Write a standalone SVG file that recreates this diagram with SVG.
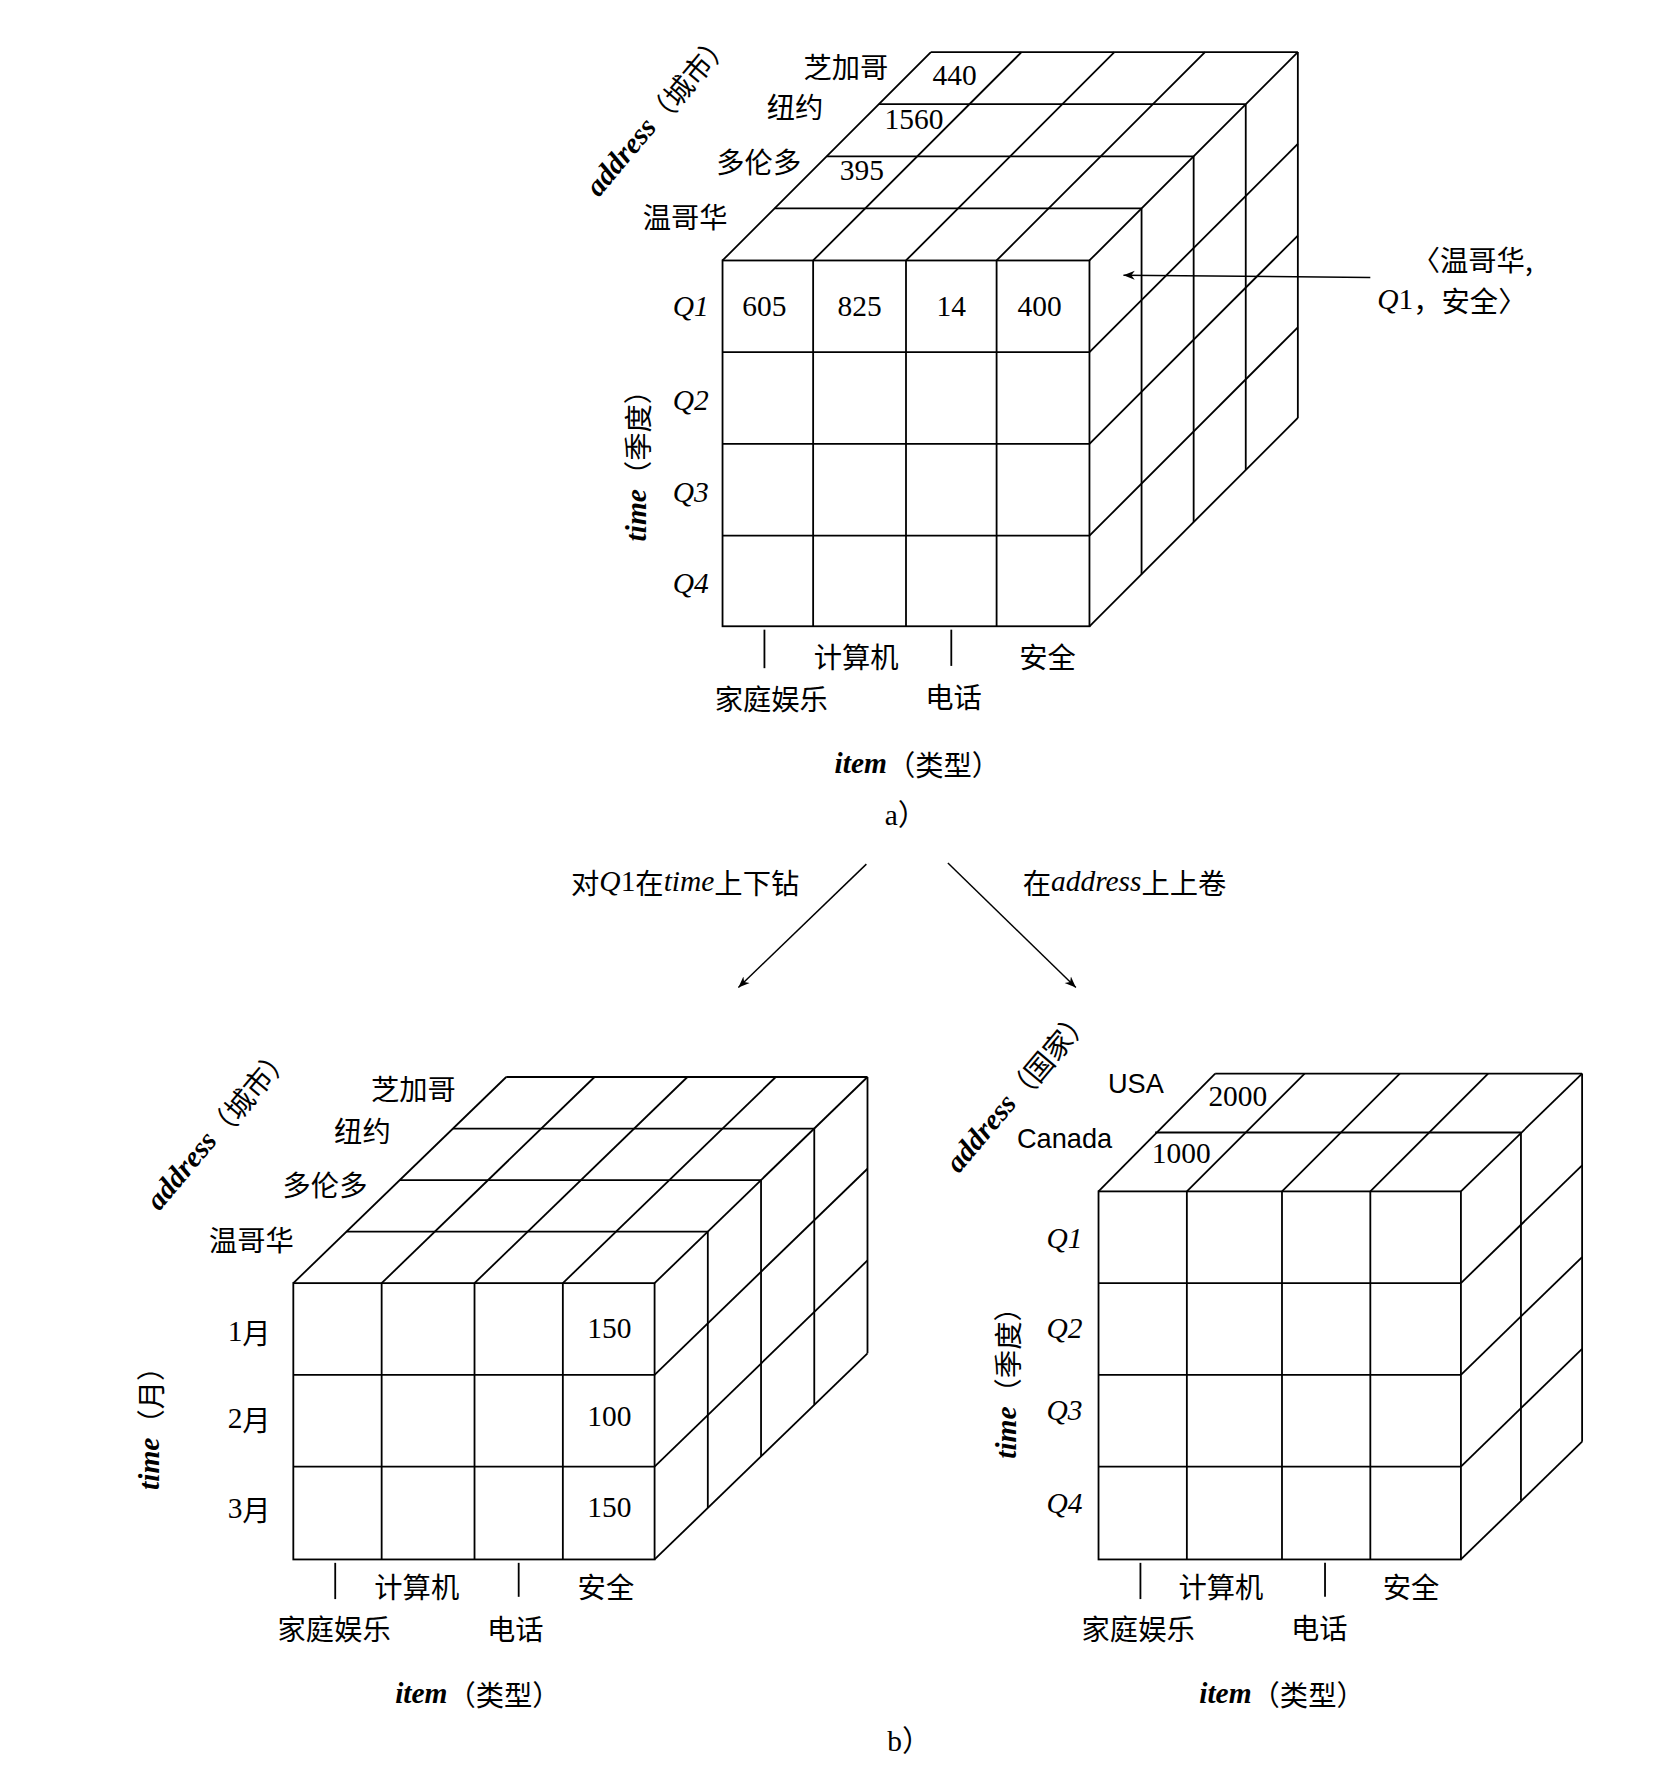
<svg xmlns="http://www.w3.org/2000/svg" width="1678" height="1775" viewBox="0 0 1678 1775">
<defs>
<style>
.g line,.g rect{stroke:#000;stroke-width:1.6;fill:none}
text{font-family:"Liberation Serif","Noto Sans CJK SC",serif;font-size:26px;fill:#000;text-anchor:middle;dominant-baseline:central}
.q{font-style:italic}
.b{font-weight:bold;font-style:italic}
.c{font-family:"Noto Sans CJK SC",sans-serif;font-size:25px}
</style>
<marker id="ah" viewBox="0 0 10 10" refX="10" refY="5" markerWidth="10" markerHeight="10" orient="auto" markerUnits="userSpaceOnUse"><path d="M0,1 L10,5 L0,9 L3,5 Z" fill="#000"/></marker>
</defs>
<rect width="1678" height="1775" fill="#fff"/>
<g transform="scale(1.1325)">
<g id="cubeA" class="g">
<rect x="638" y="230" width="324" height="323"/>
<line x1="718" y1="230" x2="718" y2="553"/><line x1="800" y1="230" x2="800" y2="553"/><line x1="880" y1="230" x2="880" y2="553"/>
<line x1="638" y1="311" x2="962" y2="311"/><line x1="638" y1="392" x2="962" y2="392"/><line x1="638" y1="473" x2="962" y2="473"/>
<line x1="684" y1="184" x2="1008" y2="184"/><line x1="730" y1="138" x2="1054" y2="138"/><line x1="776" y1="92" x2="1100" y2="92"/><line x1="822" y1="46" x2="1146" y2="46"/>
<line x1="638" y1="230" x2="822" y2="46"/><line x1="718" y1="230" x2="902" y2="46"/><line x1="800" y1="230" x2="984" y2="46"/><line x1="880" y1="230" x2="1064" y2="46"/><line x1="962" y1="230" x2="1146" y2="46"/>
<line x1="1008" y1="184" x2="1008" y2="507"/><line x1="1054" y1="138" x2="1054" y2="461"/><line x1="1100" y1="92" x2="1100" y2="415"/><line x1="1146" y1="46" x2="1146" y2="369"/>
<line x1="962" y1="311" x2="1146" y2="127"/><line x1="962" y1="392" x2="1146" y2="208"/><line x1="962" y1="473" x2="1146" y2="289"/><line x1="962" y1="553" x2="1146" y2="369"/>
<line x1="675" y1="556" x2="675" y2="590"/><line x1="840" y1="556" x2="840" y2="588"/>
</g>
<g id="labelsA">
<text x="675" y="270">605</text><text x="759" y="270">825</text><text x="840" y="270">14</text><text x="918" y="270">400</text>
<text x="843" y="66">440</text><text x="807" y="105">1560</text><text x="761" y="150">395</text>
<text class="c" x="747" y="58">芝加哥</text><text class="c" x="702" y="93">纽约</text><text class="c" x="670" y="142">多伦多</text><text class="c" x="605" y="190">温哥华</text>
<text class="q" x="610" y="270">Q1</text><text class="q" x="610" y="353">Q2</text><text class="q" x="610" y="434">Q3</text><text class="q" x="610" y="515">Q4</text>
<text class="c" x="756" y="579">计算机</text><text class="c" x="925" y="579">安全</text><text class="c" x="681" y="616">家庭娱乐</text><text class="c" x="842" y="614">电话</text>
<text x="810" y="674"><tspan class="b">item</tspan><tspan class="c">（类型）</tspan></text>
<text transform="translate(562,405) rotate(-90)"><tspan class="b">time</tspan><tspan class="c">（季度）</tspan></text>
<text transform="translate(580,100) rotate(-50)"><tspan class="b">address</tspan><tspan class="c">（城市）</tspan></text>
<text class="c" x="1300" y="228">〈温哥华,</text><text x="1282" y="264"><tspan class="q">Q</tspan>1<tspan class="c">，安全〉</tspan></text>
<text x="800" y="720">a）</text>
</g>
<g id="cubeB" class="g">
<rect x="259" y="1133" width="319" height="244"/>
<line x1="337" y1="1133" x2="337" y2="1377"/><line x1="419" y1="1133" x2="419" y2="1377"/><line x1="497" y1="1133" x2="497" y2="1377"/>
<line x1="259" y1="1214" x2="578" y2="1214"/><line x1="259" y1="1295" x2="578" y2="1295"/>
<line x1="306" y1="1087.5" x2="625" y2="1087.5"/><line x1="353" y1="1042" x2="672" y2="1042"/><line x1="400" y1="996.5" x2="719" y2="996.5"/><line x1="447" y1="951" x2="766" y2="951"/>
<line x1="259" y1="1133" x2="447" y2="951"/><line x1="337" y1="1133" x2="525" y2="951"/><line x1="419" y1="1133" x2="607" y2="951"/><line x1="497" y1="1133" x2="685" y2="951"/><line x1="578" y1="1133" x2="766" y2="951"/>
<line x1="625" y1="1087.5" x2="625" y2="1331.5"/><line x1="672" y1="1042" x2="672" y2="1286"/><line x1="719" y1="996.5" x2="719" y2="1240.5"/><line x1="766" y1="951" x2="766" y2="1195"/>
<line x1="578" y1="1214" x2="766" y2="1032"/><line x1="578" y1="1295" x2="766" y2="1113"/><line x1="578" y1="1377" x2="766" y2="1195"/>
<line x1="296" y1="1380" x2="296" y2="1412"/><line x1="458" y1="1380" x2="458" y2="1410"/>
</g>
<g id="labelsB">
<text class="c" x="365" y="960">芝加哥</text><text class="c" x="320" y="997">纽约</text><text class="c" x="287" y="1045">多伦多</text><text class="c" x="222" y="1094">温哥华</text>
<text x="220" y="1175">1<tspan class="c">月</tspan></text><text x="220" y="1252">2<tspan class="c">月</tspan></text><text x="220" y="1332">3<tspan class="c">月</tspan></text>
<text x="538" y="1173">150</text><text x="538" y="1250">100</text><text x="538" y="1331">150</text>
<text class="c" x="368" y="1400">计算机</text><text class="c" x="535" y="1400">安全</text><text class="c" x="295" y="1437">家庭娱乐</text><text class="c" x="455" y="1437">电话</text>
<text x="422" y="1495"><tspan class="b">item</tspan><tspan class="c">（类型）</tspan></text>
<text transform="translate(132,1255) rotate(-90)"><tspan class="b">time</tspan><tspan class="c">（月）</tspan></text>
<text transform="translate(192,995) rotate(-50)"><tspan class="b">address</tspan><tspan class="c">（城市）</tspan></text>
</g>
<g id="cubeC" class="g">
<rect x="970" y="1052" width="320" height="325"/>
<line x1="1048" y1="1052" x2="1048" y2="1377"/><line x1="1132" y1="1052" x2="1132" y2="1377"/><line x1="1210" y1="1052" x2="1210" y2="1377"/>
<line x1="970" y1="1133" x2="1290" y2="1133"/><line x1="970" y1="1214" x2="1290" y2="1214"/><line x1="970" y1="1295" x2="1290" y2="1295"/>
<line x1="1020" y1="1000" x2="1343" y2="1000"/><line x1="1073" y1="948" x2="1397" y2="948"/>
<line x1="970" y1="1052" x2="1073" y2="948"/><line x1="1048" y1="1052" x2="1152" y2="948"/><line x1="1132" y1="1052" x2="1236" y2="948"/><line x1="1210" y1="1052" x2="1314" y2="948"/><line x1="1290" y1="1052" x2="1397" y2="948"/>
<line x1="1343" y1="1000" x2="1343" y2="1325"/><line x1="1397" y1="948" x2="1397" y2="1273"/>
<line x1="1290" y1="1133" x2="1397" y2="1029"/><line x1="1290" y1="1214" x2="1397" y2="1110"/><line x1="1290" y1="1295" x2="1397" y2="1191"/><line x1="1290" y1="1377" x2="1397" y2="1273"/>
<line x1="1007" y1="1380" x2="1007" y2="1412"/><line x1="1170" y1="1380" x2="1170" y2="1410"/>
</g>
<g id="labelsC">
<text x="1093" y="968">2000</text><text x="1043" y="1018">1000</text>
<text x="1003" y="957" style="font-family:'Liberation Sans',sans-serif;font-size:24px">USA</text><text x="940" y="1005" style="font-family:'Liberation Sans',sans-serif;font-size:24px">Canada</text>
<text class="q" x="940" y="1093">Q1</text><text class="q" x="940" y="1173">Q2</text><text class="q" x="940" y="1245">Q3</text><text class="q" x="940" y="1327">Q4</text>
<text class="c" x="1078" y="1400">计算机</text><text class="c" x="1246" y="1400">安全</text><text class="c" x="1005" y="1437">家庭娱乐</text><text class="c" x="1165" y="1436">电话</text>
<text x="1132" y="1495"><tspan class="b">item</tspan><tspan class="c">（类型）</tspan></text>
<text transform="translate(888,1215) rotate(-90)"><tspan class="b">time</tspan><tspan class="c">（季度）</tspan></text>
<text transform="translate(898,962) rotate(-50)"><tspan class="b">address</tspan><tspan class="c">（国家）</tspan></text>
<text x="803" y="1537">b）</text>
</g>
<g id="connectors" stroke="#000" stroke-width="1.3" fill="none">
<line x1="1210" y1="245" x2="992" y2="243" marker-end="url(#ah)"/>
<line x1="765" y1="763" x2="652" y2="872" marker-end="url(#ah)"/>
<line x1="837" y1="762" x2="950" y2="872" marker-end="url(#ah)"/>
</g>
<g id="arrowLabels">
<text x="605" y="778"><tspan class="c">对</tspan><tspan class="q">Q</tspan>1<tspan class="c">在</tspan><tspan class="q">time</tspan><tspan class="c">上下钻</tspan></text>
<text x="993" y="778"><tspan class="c">在</tspan><tspan class="q">address</tspan><tspan class="c">上上卷</tspan></text>
</g>
</g>
</svg>
